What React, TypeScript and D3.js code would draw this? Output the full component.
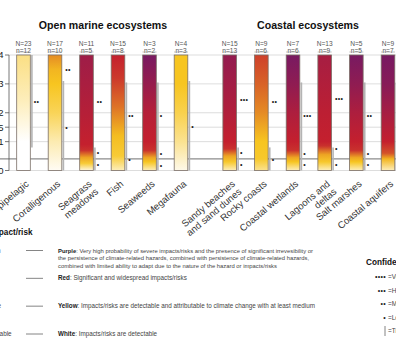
import * as d3 from 'd3'

// ---- data -----------------------------------------------------------------
const openCategories = ['Epipelagic', 'Coralligenous', 'Seagrass\nmeadows', 'Fish', 'Seaweeds', 'Megafauna']
const openN = [23, 17, 11, 15, 3, 4]
const openSmallN = [12, 10, 5, 8, 2, 3]

const coastCategories = ['Sandy beaches\nand sand dunes', 'Rocky coasts', 'Coastal wetlands', 'Lagoons and\ndeltas', 'Salt marshes', 'Coastal aquifers']
const coastN = [15, 9, 7, 13, 5, 9]
const coastSmallN = [13, 6, 6, 9, 5, 7]

// ember profiles: [warming, risk level] (0 white, 1 yellow, 2 red, 3 purple)
const openEmbers: [number, number][][] = [
  [[0, 0], [1, 0], [2.4, 0.3], [4, 0.55]],
  [[0, 0.05], [1, 0.35], [2, 0.75], [3, 1.0], [3.5, 1.1], [4, 1.35]],
  [[0, 0.15], [0.25, 0.9], [0.45, 1.2], [0.7, 1.9], [0.9, 2.0], [2, 2.2], [4, 2.5]],
  [[0, 0.3], [0.5, 0.9], [1.2, 1.05], [2.2, 1.5], [3.2, 1.85], [4, 2.0]],
  [[0, 0.3], [0.3, 1.0], [0.45, 1.2], [0.7, 1.9], [1, 2.0], [2, 2.2], [3, 2.6], [4, 3.0]],
  [[0, 0.1], [1, 0.5], [2, 0.8], [3, 1.0], [4, 1.0]],
]
const coastEmbers: [number, number][][] = [
  [[0, 0.3], [0.3, 0.95], [0.5, 1.2], [0.75, 1.9], [1, 2.0], [2, 2.25], [4, 2.65]],
  [[0, 0.5], [0.4, 0.95], [1, 1.0], [2, 1.35], [3, 1.6], [4, 1.8]],
  [[0, 0.3], [0.3, 1.0], [0.45, 1.2], [0.7, 1.9], [1, 2.0], [2, 2.3], [3, 2.7], [4, 3.0]],
  [[0, 0.3], [0.3, 0.95], [0.55, 1.2], [0.85, 1.9], [1, 2.0], [2, 2.1], [4, 2.4]],
  [[0, 0.3], [0.3, 1.0], [0.45, 1.2], [0.7, 1.9], [1, 2.0], [2, 2.3], [3, 2.7], [4, 3.0]],
  [[0, 0.3], [0.4, 1.1], [0.6, 1.7], [1, 2.0], [2, 2.4], [3, 2.8], [4, 3.0]],
]

// confidence marks: [warming, number of dots]
const openConfidence: [number, number][][] = [
  [[2.38, 2]],
  [[3.49, 2], [1.48, 1]],
  [[2.38, 2], [0.61, 1], [0.19, 1]],
  [[1.92, 2], [0.39, 1]],
  [[1.92, 1], [0.57, 1], [0.16, 1]],
  [[1.53, 1]],
]
const coastConfidence: [number, number][][] = [
  [[2.44, 3], [0.61, 1], [0.19, 1]],
  [[2.38, 2], [0.39, 1]],
  [[1.92, 3], [0.57, 1], [0.19, 1]],
  [[2.5, 3], [0.75, 1], [0.22, 1]],
  [[1.92, 2], [0.57, 1], [0.19, 1]],
  [],
]

// transition range bars: [from, to]
const openRanges: [number, number][] = [[0.8, 4], [0, 3.1], [0, 0.8], [0, 3.05], [0, 3.05], [0, 3.1]]
const coastRanges: [number, number][] = [[0, 0.8], [0, 0.8], [0, 3.05], [0, 0.8], [0, 3.05], [0, 3.05]]

const yTicks = [0, 1, 1.5, 2, 3, 4]
const presentLevel = 0.4

const levelNames = ['Very high', 'High', 'Moderate', 'Undetectable']
const levelTexts = [
  [['Purple', ': Very high probability of severe impacts/risks and the presence of significant irrevesibility or'],
    ['', 'the persistence of climate-related hazards, combined with persistence of climate-related hazards,'],
    ['', 'combined with limited ability to adapt due to the nature of the hazard or impacts/risks']],
  [['Red', ': Significant and widespread impacts/risks']],
  [['Yellow', ': Impacts/risks are detectable and attributable to climate change with at least medium']],
  [['White', ': Impacts/risks are detectable']],
]
const confidenceLevels = ['Very high', 'High', 'Medium', 'Low']

// ---- layout ---------------------------------------------------------------
const W = 396
const H = 360
const FONT = 'Liberation Sans, Arial, sans-serif'
const BAR_W = 13.6

const y = d3.scaleLinear().domain([0, 4]).range([170.5, 55])
const xOpen = d3.scalePoint<string>().domain(openCategories).range([23.5, 181])
const xCoast = d3.scalePoint<string>().domain(coastCategories).range([229.7, 388])
const levelColor = d3
  .scaleLinear<string>()
  .domain([0, 1, 2, 3])
  .range(['#ffffff', '#f7c520', '#c4202e', '#781a62'])
  .interpolate(d3.interpolateRgb)

const legendY = d3.scalePoint<number>().domain([0, 1, 2, 3]).range([250.5, 334])
const confY = d3.scaleLinear().domain([0, 4]).range([277, 331])

function Group({ id, categories, x, Ns, ns, embers, conf, ranges, title, titleX }: {
  id: string
  categories: string[]
  x: d3.ScalePoint<string>
  Ns: number[]
  ns: number[]
  embers: [number, number][][]
  conf: [number, number][][]
  ranges: [number, number][]
  title: string
  titleX: number
}) {
  return (
    <g>
      <text x={titleX} y={29} textAnchor="middle" fontSize={10.6} fontWeight="bold" fill="#111">{title}</text>
      <defs>
        {categories.map((c, i) => (
          <linearGradient key={c} id={`${id}-${i}`} gradientUnits="userSpaceOnUse" x1={0} x2={0} y1={y(0)} y2={y(4)}>
            {embers[i].map(([w, lvl]) => (
              <stop key={w} offset={w / 4} stopColor={levelColor(lvl)} />
            ))}
          </linearGradient>
        ))}
      </defs>
      {categories.map((c, i) => {
        const cx = x(c)!
        const right = cx + BAR_W / 2
        const lines = c.split('\n')
        return (
          <g key={c}>
            <line x1={right + 1.6} x2={right + 1.6} y1={y(ranges[i][0])} y2={y(ranges[i][1])} stroke="#b4b4b4" strokeWidth={1.6} />
            <rect x={cx - BAR_W / 2} y={y(4)} width={BAR_W} height={y(0) - y(4)} fill={`url(#${id}-${i})`} stroke="#7a6e66" strokeWidth={0.8} />
            <text x={cx} y={46} textAnchor="middle" fontSize={6.6} fill="#555">N={Ns[i]}</text>
            <text x={cx} y={53} textAnchor="middle" fontSize={6.6} fill="#555">n={ns[i]}</text>
            <line x1={cx - 7} x2={cx + 7} y1={52} y2={52} stroke="#999" strokeWidth={0.6} />
            {conf[i].map(([w, k]) => (
              <text key={w} x={right + 3.5} y={y(w)} dy="0.35em" fontSize={7} letterSpacing={0.3} fill="#1a1a1a">
                {'•'.repeat(k)}
              </text>
            ))}
            <text transform={`translate(${cx + 6},185) rotate(-40)`} textAnchor="end" fontSize={9.6} fill="#333">
              {lines.map((l, j) => (
                <tspan key={j} x={0} y={0} dy={`${j * 1.05}em`}>{l}</tspan>
              ))}
            </text>
          </g>
        )
      })}
    </g>
  )
}

export default function App() {
  return (
    <div style={{ position: 'fixed', left: 0, top: 0 }}>
      <svg width={W} height={H} fontFamily={FONT} style={{ display: 'block', background: '#fff' }}>
        {/* grid */}
        {yTicks.map((t) => (
          <line key={t} x1={9} x2={W} y1={y(t)} y2={y(t)} stroke="#d4d4d4" strokeWidth={0.8} />
        ))}
        <line x1={0} x2={W} y1={y(presentLevel)} y2={y(presentLevel)} stroke="#8c8c8c" strokeWidth={1.2} />
        {/* y axis */}
        <line x1={9} x2={9} y1={y(4)} y2={y(0)} stroke="#555" strokeWidth={0.8} />
        {yTicks.map((t) => (
          <g key={t}>
            <line x1={5} x2={9} y1={y(t)} y2={y(t)} stroke="#555" strokeWidth={0.8} />
            <text x={3.5} y={y(t)} dy="0.35em" textAnchor="end" fontSize={9.5} fill="#222">{t}</text>
          </g>
        ))}

        <Group id="om" categories={openCategories} x={xOpen} Ns={openN} ns={openSmallN} embers={openEmbers}
          conf={openConfidence} ranges={openRanges} title="Open marine ecosystems" titleX={103} />
        <Group id="co" categories={coastCategories} x={xCoast} Ns={coastN} ns={coastSmallN} embers={coastEmbers}
          conf={coastConfidence} ranges={coastRanges} title="Coastal ecosystems" titleX={308} />

        {/* impact / risk legend */}
        <text x={32.5} y={235} textAnchor="end" fontSize={8.2} fontWeight="bold" fill="#111">Impact/risk</text>
        {levelNames.map((name, i) => (
          <g key={name}>
            <text x={-26} y={legendY(i)! + 2} fontSize={6.4} fill="#444">{name}</text>
            <line x1={26} x2={43} y1={legendY(i)} y2={legendY(i)} stroke="#777" strokeWidth={0.9} />
            {levelTexts[i].map(([b, rest], j) => (
              <text key={j} x={58} y={legendY(i)! + 2 + j * 7.6} fontSize={i === 0 ? 5.85 : 6.3} fill="#444">
                {b && <tspan fontWeight="bold" fill="#222">{b}</tspan>}
                <tspan>{rest}</tspan>
              </text>
            ))}
          </g>
        ))}

        {/* confidence legend */}
        <text x={366} y={265} fontSize={8.2} fontWeight="bold" fill="#111">Confidence</text>
        {confidenceLevels.map((c, i) => (
          <g key={c}>
            <text x={386} y={confY(i)} dy="0.35em" textAnchor="end" fontSize={7} letterSpacing={0.3} fill="#1a1a1a">
              {'•'.repeat(4 - i)}
            </text>
            <text x={388} y={confY(i)} dy="0.35em" fontSize={6.4} fill="#444">={c}</text>
          </g>
        ))}
        <line x1={385} x2={385} y1={confY(4) - 5} y2={confY(4) + 5} stroke="#777" strokeWidth={0.9} />
        <text x={388} y={confY(4)} dy="0.35em" fontSize={6.4} fill="#444">=Transition range</text>
      </svg>
    </div>
  )
}
